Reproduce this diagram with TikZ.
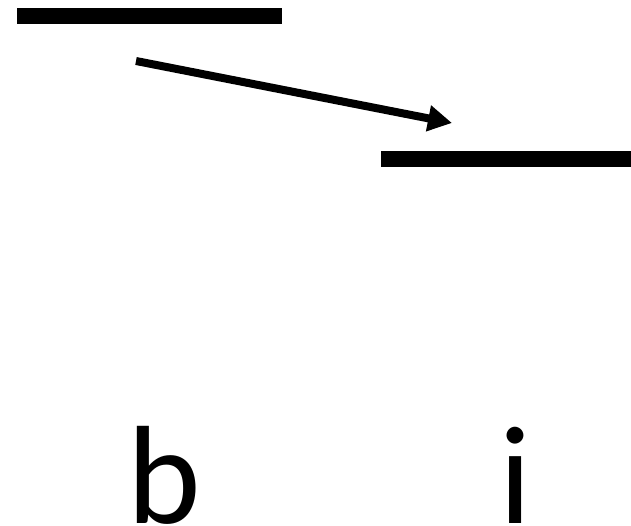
\documentclass[tikz,border=0pt]{standalone}
\usepackage{fontspec}
\setmainfont{Carlito}
\usetikzlibrary{arrows.meta}
\begin{document}
\begin{tikzpicture}[x=1pt,y=-1pt,
  bar/.style={fill=black,inner sep=0pt,minimum height=16pt,draw=none,rectangle},
  lbl/.style={font=\fontsize{140}{140}\selectfont,anchor=base,inner sep=0pt},
  arr/.style={line width=8pt,-{Triangle[length=24pt,width=25pt]}}]
\useasboundingbox (0,0) rectangle (631,526);
\node[bar,minimum width=265pt,anchor=north west] (top) at (17,8) {};
\node[bar,minimum width=250pt,anchor=north west] (low) at (381,151) {};
\coordinate (s) at (136,61);
\coordinate (e) at (452,123);
\draw[arr] (s) -- (e);
\node[lbl] (b) at (164,523) {b};
\node[lbl] (i) at (516,523) {i};
\end{tikzpicture}
\end{document}
